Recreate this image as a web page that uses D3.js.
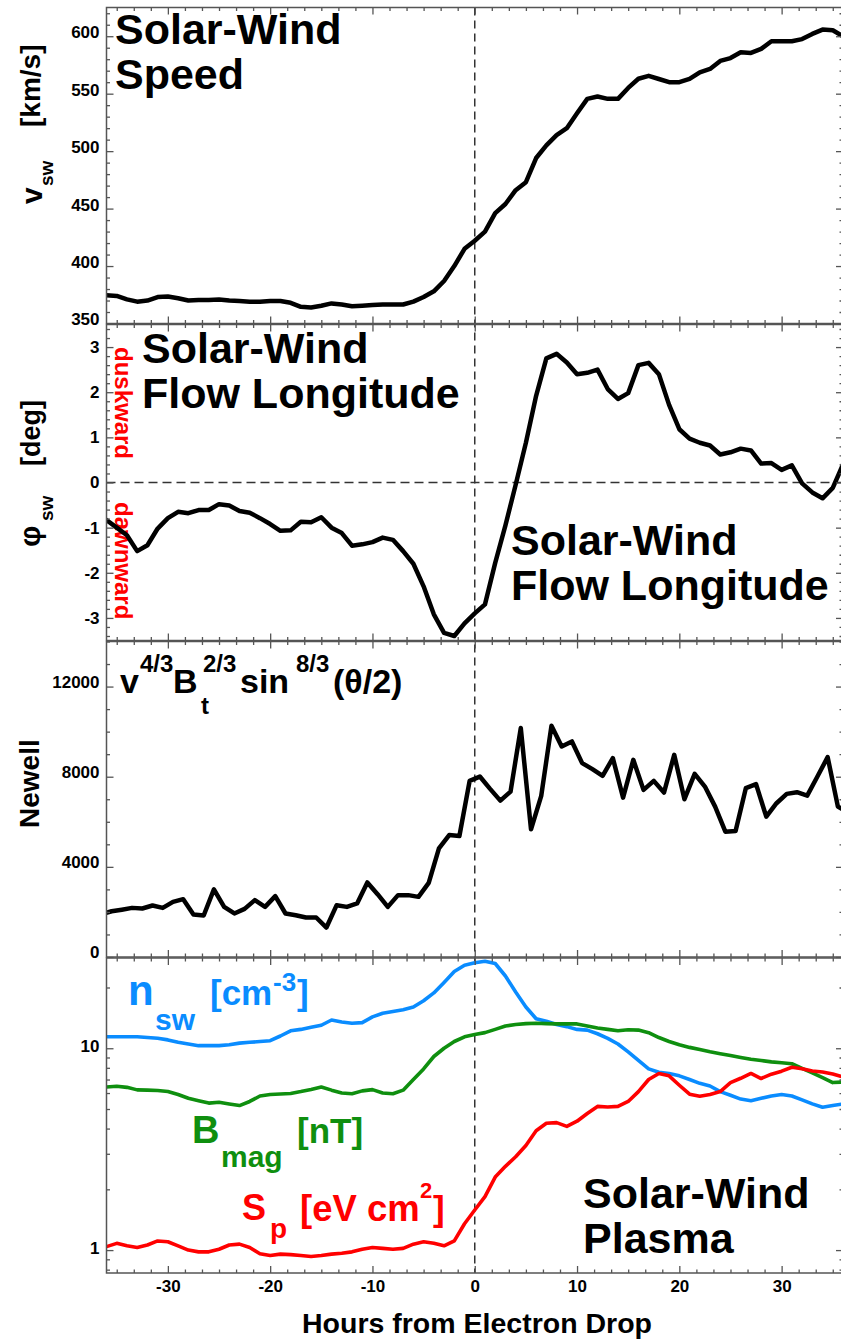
<!DOCTYPE html>
<html><head><meta charset="utf-8">
<script src="https://cdn.jsdelivr.net/npm/d3@7"></script>
<style>
body{margin:0;background:#fff}
svg{display:block}
text{font-family:"Liberation Sans",Arial,Helvetica,sans-serif;font-weight:bold}
</style>
</head><body>
<svg id="c" width="841" height="1341"></svg>
<script>
// ---------------- data ----------------
const hours = [-36,-35,-34,-33,-32,-31,-30,-29,-28,-27,-26,-25,-24,-23,-22,-21,-20,-19,-18,-17,-16,-15,-14,-13,-12,-11,-10,-9,-8,-7,-6,-5,-4,-3,-2,-1,0,1,2,3,4,5,6,7,8,9,10,11,12,13,14,15,16,17,18,19,20,21,22,23,24,25,26,27,28,29,30,31,32,33,34,35,36];
const speed = [374.6,374,371,369,370,373,373.5,372,370,370.5,
  370.5,370.8,370,369.5,369,369,369.5,369.5,368,364.5,
  364,365.5,367.5,366.5,365,365.5,366,366.5,366.5,366.5,
  369,373,378,387,400,415,422,430,446,454,
  466,473,494,505,514,520,533,545.5,547.5,545.5,
  545.5,555,563,565.5,562.8,560,560,562.8,568.6,571.5,
  578.5,581,586,585.5,589,595.6,595.6,595.6,597.5,602,
  605.8,605.2,600];
const flowLon = [-0.83,-1.0,-1.17,-1.52,-1.39,-1.02,-0.79,-0.65,-0.68,-0.61,
  -0.61,-0.48,-0.51,-0.63,-0.67,-0.79,-0.92,-1.07,-1.06,-0.87,
  -0.88,-0.77,-1.0,-1.12,-1.40,-1.37,-1.32,-1.22,-1.27,-1.52,
  -1.80,-2.30,-2.92,-3.33,-3.40,-3.12,-2.90,-2.70,-1.78,-0.95,
  -0.05,0.88,1.92,2.75,2.85,2.66,2.40,2.43,2.50,2.07,
  1.85,1.98,2.60,2.65,2.40,1.72,1.18,0.97,0.88,0.82,
  0.62,0.67,0.75,0.71,0.42,0.43,0.28,0.38,-0.02,-0.22,
  -0.35,-0.12,0.40];
const newellTimes = [-36.5,-35.5,-34.5,-33.5,-32.5,-31.5,-30.5,-29.5,-28.5,-27.5,-26.5,-25.5,-24.5,-23.5,-22.5,-21.5,-20.5,-19.5,-18.5,-17.5,-16.5,-15.5,-14.5,-13.5,-12.5,-11.5,-10.5,-9.5,-8.5,-7.5,-6.5,-5.5,-4.5,-3.5,-2.5,-1.5,-0.5,0.5,1.5,2.5,3.5,4.5,5.5,6.5,7.5,8.5,9.5,10.5,11.5,12.5,13.5,14.5,15.5,16.5,17.5,18.5,19.5,20.5,21.5,22.5,23.5,24.5,25.5,26.5,27.5,28.5,29.5,30.5,31.5,32.5,33.5,34.5,35.5,36.5];
const newell = [1900,2030,2100,2180,2153,2286,2180,2447,2567,1886,
  1842,2998,2224,1931,2135,2522,2224,2700,1931,1855,
  1753,1753,1308,2300,2224,2375,3310,2789,2224,2745,
  2745,2669,3292,4822,5413,5369,7816,8007,7460,6939,
  7340,10160,5667,7149,10262,9342,9564,8603,8336,8038,
  8826,7073,8750,7415,7816,7295,8972,7002,8127,7562,
  6673,5560,5592,7491,7669,6228,6824,7238,7313,7162,
  8007,8870,6673,6400];
const density = [11.4,11.4,11.4,11.4,11.3,11.2,11.0,10.7,10.5,10.3,
  10.3,10.3,10.4,10.6,10.7,10.8,10.9,11.5,12.2,12.4,
  12.7,13.0,13.8,13.5,13.3,13.4,14.3,14.9,15.2,15.5,
  16.0,17.2,18.8,21.2,24.0,25.8,26.5,27.0,26.3,22.8,
  19.0,16.0,14.0,13.6,13.1,12.8,12.4,12.3,11.8,11.2,
  10.5,9.6,8.7,7.9,7.6,7.5,7.3,7.0,6.7,6.5,
  6.1,5.85,5.6,5.5,5.65,5.8,5.9,5.8,5.55,5.3,
  5.1,5.2,5.3];
const bmag = [6.43,6.48,6.4,6.22,6.2,6.18,6.1,5.9,5.65,5.5,
  5.35,5.4,5.3,5.2,5.45,5.8,5.9,5.93,5.97,6.1,
  6.25,6.43,6.2,6.0,5.95,6.15,6.24,6.0,5.95,6.2,
  7.0,7.9,9.1,10.0,10.8,11.4,11.7,11.95,12.4,12.9,
  13.1,13.25,13.3,13.25,13.2,13.2,13.2,12.9,12.6,12.4,
  12.2,12.35,12.3,11.95,11.3,10.8,10.4,10.1,9.85,9.6,
  9.4,9.2,9.0,8.82,8.7,8.56,8.48,8.38,7.95,7.55,
  7.15,6.76,6.8];
const sp = [1.04,1.08,1.05,1.03,1.06,1.11,1.1,1.05,1.0,0.98,
  0.98,1.01,1.06,1.07,1.03,0.96,0.94,0.955,0.95,0.94,
  0.93,0.94,0.955,0.965,0.98,1.01,1.03,1.02,1.01,1.02,
  1.07,1.10,1.08,1.05,1.11,1.35,1.58,1.84,2.3,2.6,
  2.9,3.3,3.9,4.25,4.28,4.1,4.35,4.75,5.15,5.12,
  5.15,5.45,6.1,7.0,7.5,7.3,6.56,5.92,5.79,5.9,
  6.1,6.75,7.1,7.5,7.08,7.44,7.7,8.05,7.92,7.72,
  7.62,7.45,7.2];

const xTicks = [-30,-20,-10,0,10,20,30];
const speedTicks = [350,400,450,500,550,600];
const flowTicks = [-3,-2,-1,0,1,2,3];
const newellTicks = [0,4000,8000,12000];
const plasmaTicks = [1,10];
const plasmaMinor = [0.8,0.9,2,3,4,5,6,7,8,9,20];

// ---------------- layout ----------------
const svg = d3.select("#c");
const X0 = 106.5, X1 = 843;
const x = d3.scaleLinear().domain([-36,36]).range([X0,X1]);
const xMinor = d3.range(-21,22).map(k=>k*5/3).filter(v=>!xTicks.some(m=>Math.abs(m-v)<1e-6));
const FONT = '"Liberation Sans",Arial,Helvetica,sans-serif';
const FRAME = "#555";

const panels = [
  {top:7.5, bottom:323.5, y:d3.scaleLinear().domain([350,625]), major:speedTicks, minor:d3.range(350,626,10), shift:4},
  {top:324.5, bottom:640.5, y:d3.scaleLinear().domain([-3.5,3.5]), major:flowTicks, minor:d3.range(-34,35,2).map(v=>v/10), shift:0},
  {top:641.5, bottom:957, y:d3.scaleLinear().domain([0,14000]), major:newellTicks, minor:d3.range(0,14001,1000), shift:5},
  {top:958, bottom:1273, y:d3.scaleLog().domain([0.77,28]), major:plasmaTicks, minor:plasmaMinor, shift:2}
];
panels.forEach(p=>p.y.range([p.bottom,p.top]));

const defs = svg.append("defs");
panels.forEach((p,i)=>{
  defs.append("clipPath").attr("id","clip"+i).append("rect")
    .attr("x",X0).attr("y",p.top).attr("width",X1-X0).attr("height",p.bottom-p.top);
});

const layerText = svg.append("g");
const layerLines = svg.append("g");
const layerAxes = svg.append("g");

function styleAxis(g){
  g.select(".domain").remove();
  g.attr("color",FRAME).attr("font-family",FONT).attr("font-size",17).attr("font-weight","bold");
  g.selectAll(".tick line").attr("stroke-width",1.3);
  g.selectAll("text").attr("fill","#000");
}

panels.forEach((p,i)=>{
  const g = layerAxes.append("g");
  g.append("g").attr("transform",`translate(0,${p.bottom})`)
    .call(d3.axisBottom(x).tickValues(xTicks).tickSize(-7).tickPadding(7)
      .tickFormat(i===3 ? (d=>String(d)) : ""))
    .call(styleAxis);
  g.append("g").attr("transform",`translate(0,${p.bottom})`)
    .call(d3.axisBottom(x).tickValues(xMinor).tickSize(-3.5).tickFormat("")).call(styleAxis);
  g.append("g").attr("transform",`translate(0,${p.top})`)
    .call(d3.axisTop(x).tickValues(xTicks).tickSize(-7).tickFormat("")).call(styleAxis);
  g.append("g").attr("transform",`translate(0,${p.top})`)
    .call(d3.axisTop(x).tickValues(xMinor).tickSize(-3.5).tickFormat("")).call(styleAxis);
  const left = g.append("g").attr("transform",`translate(${X0},0)`)
    .call(d3.axisLeft(p.y).tickValues(p.major).tickSize(-7).tickPadding(7).tickFormat(d=>String(d)))
    .call(styleAxis);
  left.selectAll("text").attr("y",-p.shift);
  g.append("g").attr("transform",`translate(${X0},0)`)
    .call(d3.axisLeft(p.y).tickValues(p.minor.filter(v=>!p.major.includes(v))).tickSize(-3.5).tickFormat("")).call(styleAxis);
  g.append("g").attr("transform",`translate(${X1},0)`)
    .call(d3.axisRight(p.y).tickValues(p.major).tickSize(-7).tickFormat("")).call(styleAxis);
  g.append("g").attr("transform",`translate(${X1},0)`)
    .call(d3.axisRight(p.y).tickValues(p.minor.filter(v=>!p.major.includes(v))).tickSize(-3.5).tickFormat("")).call(styleAxis);
  g.append("rect").attr("x",X0).attr("y",p.top).attr("width",X1-X0).attr("height",p.bottom-p.top)
    .attr("fill","none").attr("stroke",FRAME).attr("stroke-width",1.5);
});

layerLines.append("line").attr("x1",x(0)).attr("x2",x(0)).attr("y1",panels[0].top).attr("y2",panels[3].bottom)
  .attr("stroke","#333").attr("stroke-width",1.5).attr("stroke-dasharray","8,5");
layerLines.append("line").attr("x1",X0).attr("x2",X1).attr("y1",panels[1].y(0)).attr("y2",panels[1].y(0))
  .attr("stroke","#333").attr("stroke-width",1.5).attr("stroke-dasharray","9,5");

function drawLine(i, xs, ys, color, w){
  const p = panels[i];
  const line = d3.line().x((d,k)=>x(xs[k])).y(d=>p.y(d));
  layerLines.append("path").datum(ys).attr("d",line).attr("clip-path",`url(#clip${i})`)
    .attr("fill","none").attr("stroke",color).attr("stroke-width",w).attr("stroke-linejoin","round").attr("stroke-linecap","round");
}
const BLUE = "#0a8cff", GREEN = "#0f8f0f", RED = "#ff0000";
drawLine(0, hours, speed, "#000", 4.5);
drawLine(1, hours, flowLon, "#000", 4.5);
drawLine(2, newellTimes, newell, "#000", 4.5);
drawLine(3, hours, density, BLUE, 3.6);
drawLine(3, hours, bmag, GREEN, 3.6);
drawLine(3, hours, sp, RED, 3.6);

// ---------------- text ----------------
function t(xp, yp, str, size, fill="#000", anchor="start"){
  return layerText.append("text").attr("x",xp).attr("y",yp).attr("font-size",size)
    .attr("fill",fill).attr("text-anchor",anchor).text(str);
}
function rt(xp, yp, str, size, fill="#000", angle=-90){
  return layerText.append("text").attr("transform",`translate(${xp},${yp}) rotate(${angle})`)
    .attr("font-size",size).attr("fill",fill).text(str);
}

// panel 1
t(115,44,"Solar-Wind",43); t(115,89,"Speed",43);
rt(42,204,"v",30); rt(53,186,"sw",19); rt(40,127,"[km/s]",28);

// panel 2
t(142,363,"Solar-Wind",43); t(142,408,"Flow Longitude",43);
t(511,555,"Solar-Wind",43); t(511,600,"Flow Longitude",43);
rt(115,347,"duskward",24,RED,90); rt(115,502,"dawnward",24,RED,90);
rt(40,547,"\u03c6",30); rt(53,521,"sw",19); rt(40,466,"[deg]",27);

// panel 3
t(120,693,"v",34); t(140,672,"4/3",24);
t(173,693,"B",34); t(201,714,"t",24); t(203,672,"2/3",24);
t(240,693,"sin",34); t(296,672,"8/3",24);
t(333,693,"(\u03b8/2)",34);
rt(39,828,"Newell",28);

// panel 4
t(128,1005,"n",42,BLUE); t(155,1030,"sw",30,BLUE); t(210,1005,"[cm",35,BLUE); t(273,991,"-3",26,BLUE); t(297,1005,"]",35,BLUE);
t(192,1143,"B",38,GREEN); t(221,1167,"mag",30,GREEN); t(297,1143,"[nT]",35,GREEN);
t(242,1220,"S",36,RED); t(270,1238,"p",28,RED); t(300,1221,"[eV cm",36.5,RED); t(420,1198,"2",22,RED); t(433,1221,"]",35,RED);
t(583,1208,"Solar-Wind",43); t(583,1253,"Plasma",43);

t(477,1333,"Hours from Electron Drop",28.5,"#000","middle");
</script>
</body></html>
